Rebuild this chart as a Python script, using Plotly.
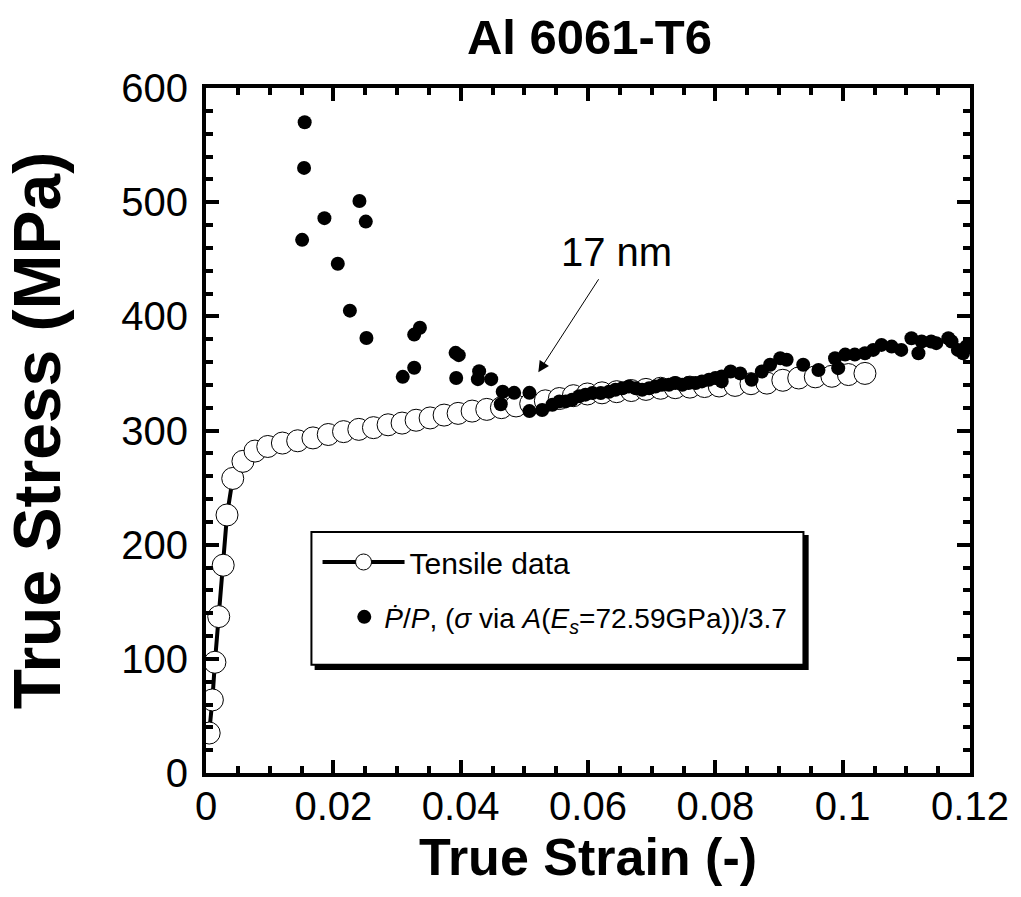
import plotly.graph_objects as go

# ---- Data ----
tensile_strain = [0.0005, 0.0010, 0.0014, 0.0020, 0.0027, 0.0033, 0.0042, 0.0058, 0.0077, 0.0097,
                  0.0120, 0.0144, 0.0168, 0.0192, 0.0216, 0.0240, 0.0263, 0.0286, 0.0308, 0.0330,
                  0.0352, 0.0374, 0.0396, 0.0418, 0.0441, 0.0464, 0.0487, 0.0510, 0.0533, 0.0555,
                  0.0577, 0.0599, 0.0622, 0.0645, 0.0668, 0.0691, 0.0714, 0.0737, 0.0760, 0.0783,
                  0.0806, 0.0831, 0.0856, 0.0881, 0.0906, 0.0931, 0.0957, 0.0983, 0.1009, 0.1035]
tensile_stress = [35, 64, 97, 137, 182, 226, 258, 273, 282, 286,
                  289, 291, 293.5, 296.5, 299, 301, 302.5, 305, 306.5, 309,
                  311, 313.5, 315, 317, 318.5, 320, 321.5, 323.5, 326, 328,
                  330.5, 332, 333, 334, 335, 336, 337, 337.5, 338, 338.5,
                  339, 339.5, 341, 341.5, 344, 346, 347, 347.5, 349, 350]

pp_strain = [0.0155, 0.0154, 0.0241, 0.0186, 0.0251, 0.0151, 0.0207, 0.0226, 0.0252, 0.0336,
             0.0327, 0.0309, 0.0327, 0.0392, 0.0397, 0.0393, 0.0429, 0.0427, 0.0448, 0.0466,
             0.0484, 0.0463, 0.0508, 0.0508, 0.0528, 0.0544, 0.0555, 0.0565, 0.0575, 0.0586,
             0.0596, 0.0607, 0.0620, 0.0633, 0.0643, 0.0654, 0.0664, 0.0675, 0.0685, 0.0696,
             0.0706, 0.0716, 0.0727, 0.0737, 0.0748, 0.0758, 0.0769, 0.0779, 0.0790, 0.0800,
             0.0810, 0.0810, 0.0824, 0.0839, 0.0857, 0.0873, 0.0886, 0.0902, 0.0912, 0.0938,
             0.0962, 0.0988, 0.0993, 0.1004, 0.1019, 0.1035, 0.1048, 0.1061, 0.1077, 0.1092,
             0.1108, 0.1119, 0.1124, 0.1139, 0.1147, 0.1166, 0.1171, 0.1181, 0.1189, 0.1194]
pp_stress = [570, 530, 501, 486, 483, 467, 446, 405, 381, 390,
             384, 347, 355, 368, 366, 346, 352, 345, 345, 334,
             333, 323, 333, 317, 318, 322.6, 325.5, 325.5, 327, 330,
             331.4, 332.8, 332.8, 334, 335.7, 337, 338.6, 337, 335.7, 337,
             338.6, 340, 340, 341.5, 340, 341.5, 341.5, 343, 344.5, 346,
             347.4, 343, 351.7, 350, 344.5, 351.7, 357.6, 363.3, 362, 357.6,
             353, 363.3, 354.6, 366.5, 366.5, 367.7, 370.6, 375, 373.5, 370.6,
             380.8, 367.7, 378, 378, 376.5, 380.8, 378, 370.6, 367.7, 373.5]

x_ticks = [0, 0.02, 0.04, 0.06, 0.08, 0.1, 0.12]
x_ticklabels = ["0", "0.02", "0.04", "0.06", "0.08", "0.1", "0.12"]
y_ticks = [0, 100, 200, 300, 400, 500, 600]

FONT = "Liberation Sans, Arial, Helvetica, sans-serif"

fig = go.Figure()

fig.add_trace(go.Scatter(
    x=tensile_strain, y=tensile_stress, mode="lines+markers",
    name="Tensile data", legend="legend", showlegend=True,
    line=dict(color="black", width=4),
    marker=dict(symbol="circle", size=22, color="white", line=dict(color="black", width=1)),
))

fig.add_trace(go.Scatter(
    x=pp_strain, y=pp_stress, mode="markers",
    name="<i>P\u0307</i>/<i>P</i>, (<i>\u03c3</i> via <i>A</i>(<i>E<sub>s</sub></i>=72.59GPa))/3.7",
    legend="legend2", showlegend=True,
    marker=dict(symbol="circle", size=14, color="black", line=dict(width=0)),
))

axis_common = dict(
    showline=True, linecolor="black", linewidth=4, mirror="allticks",
    ticks="inside", ticklen=13, tickwidth=4, tickcolor="black",
    showgrid=False, zeroline=False,
    tickfont=dict(family=FONT, size=40, color="black"),
)

fig.update_xaxes(
    range=[0, 0.12], tickvals=x_ticks, ticktext=x_ticklabels,
    minor=dict(ticks="inside", ticklen=7, tickwidth=4, dtick=0.005, tickcolor="black", showgrid=False),
    title=dict(text="<b>True Strain (-)</b>", font=dict(family=FONT, size=52, color="black"), standoff=12),
    ticklabelstandoff=-5,
    **axis_common,
)
fig.update_yaxes(
    range=[0, 600], tickvals=y_ticks,
    minor=dict(ticks="inside", ticklen=7, tickwidth=4, dtick=20, tickcolor="black", showgrid=False),
    title=dict(text="<b>True Stress (MPa)</b>", font=dict(family=FONT, size=66, color="black"), standoff=42),
    ticklabelstandoff=6,
    **axis_common,
)

# legend box with drop shadow (paper coords)
L, R, T, B = 0.138, 0.782, 0.352, 0.158
sh = 0.0055
fig.add_shape(type="rect", xref="paper", yref="paper", x0=L + sh, x1=R + sh, y0=B - sh * 1.12, y1=T - sh * 1.12,
              fillcolor="black", line=dict(color="black", width=2), layer="above")
fig.add_shape(type="rect", xref="paper", yref="paper", x0=L, x1=R, y0=B, y1=T,
              fillcolor="white", line=dict(color="black", width=2), layer="above")

fig.update_layout(
    width=1021, height=897, showlegend=True,
    margin=dict(l=206, r=48, t=88, b=124),
    plot_bgcolor="white", paper_bgcolor="white",
    font=dict(family=FONT, color="black"),
    title=dict(text="<b>Al 6061-T6</b>", font=dict(family=FONT, size=49, color="black"),
               x=(591 - 206) / 767, xref="paper", xanchor="center",
               y=1 - 37 / 897, yref="container", yanchor="middle"),
    legend=dict(x=0.146, y=0.346, xanchor="left", yanchor="top", bgcolor="rgba(0,0,0,0)",
                borderwidth=0, font=dict(family=FONT, size=30, color="black"), itemwidth=82),
    legend2=dict(x=0.181, y=0.264, xanchor="left", yanchor="top", bgcolor="rgba(0,0,0,0)",
                 borderwidth=0, font=dict(family=FONT, size=28, color="black"), itemwidth=30),
)

# "17 nm" label with arrow pointing at the transition
fig.add_annotation(x=0.0522, y=351, ax=0.0644, ay=456, xref="x", yref="y", axref="x", ayref="y",
                   text="17 nm", showarrow=True, arrowhead=2, arrowsize=2.2, arrowwidth=1,
                   arrowcolor="black", standoff=0, startstandoff=4,
                   font=dict(family=FONT, size=40, color="black"))

fig.write_html("out.html")
